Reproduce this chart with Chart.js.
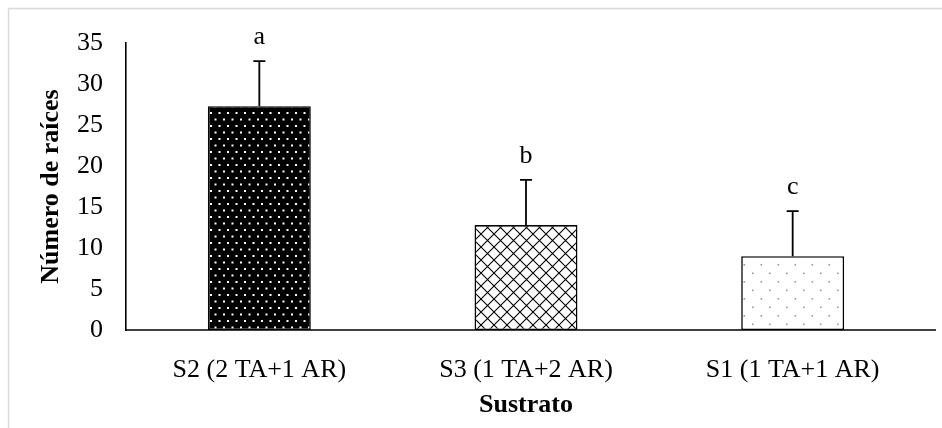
<!DOCTYPE html>
<html>
<head>
<meta charset="utf-8">
<script src="https://cdn.jsdelivr.net/npm/chart.js@4.4.0/dist/chart.umd.min.js"></script>
<style>
    body { margin: 0; background: #fff; }
    #wrap { width: 942px; height: 428px; position: relative; }
</style>
</head>
<body>
<div id="wrap"><canvas id="rootChart"></canvas></div>
<script>
// Root count per substrate
const categories = ['S2 (2 TA+1 AR)', 'S3 (1 TA+2 AR)', 'S1 (1 TA+1 AR)'];
const meanRoots = [27.3, 12.8, 9.0];
const sdRoots = [5.5, 5.5, 5.5];
const groupLetters = ['a', 'b', 'c'];
const yTicks = [0, 5, 10, 15, 20, 25, 30, 35];

const serif = 'Liberation Serif, Times New Roman, serif';

// Fill patterns
function makePattern(w, h, draw) {
    const c = document.createElement('canvas');
    c.width = w;
    c.height = h;
    const ctx = c.getContext('2d');
    draw(ctx, w, h);
    return document.getElementById('rootChart').getContext('2d').createPattern(c, 'repeat');
}

// black with white dots
const densePattern = makePattern(17, 13, (ctx, w, h) => {
    ctx.fillStyle = '#000';
    ctx.fillRect(0, 0, w, h);
    ctx.fillStyle = '#fff';
    [[2, 1.5], [10.5, 1.5], [6, 8], [14.5, 8]].forEach(([x, y]) => ctx.fillRect(x, y, 2, 2));
});

// diagonal cross hatch
const hatchPattern = makePattern(13, 13, (ctx, w, h) => {
    ctx.fillStyle = '#fff';
    ctx.fillRect(0, 0, w, h);
    ctx.strokeStyle = '#000';
    ctx.lineWidth = 1.1;
    ctx.beginPath();
    ctx.moveTo(0, 0); ctx.lineTo(w, h);
    ctx.moveTo(w, 0); ctx.lineTo(0, h);
    ctx.stroke();
});

// white with sparse grey dots
const sparsePattern = makePattern(17, 17, (ctx, w, h) => {
    ctx.fillStyle = '#fff';
    ctx.fillRect(0, 0, w, h);
    ctx.fillStyle = '#9a9a9a';
    [[4, 0.5], [12.5, 9]].forEach(([x, y]) => ctx.fillRect(x, y, 1.6, 1.6));
});

const barFills = [densePattern, hatchPattern, sparsePattern];

// Frame, x axis line, error bars and group letters
const decorPlugin = {
    id: 'decor',
    beforeDraw(chart) {
        const { ctx } = chart;
        ctx.save();
        ctx.strokeStyle = '#d9d9d9';
        ctx.lineWidth = 1.5;
        ctx.beginPath();
        ctx.moveTo(8.5, chart.height);
        ctx.lineTo(8.5, 8.5);
        ctx.lineTo(chart.width, 8.5);
        ctx.stroke();
        ctx.restore();
    },
    afterDatasetsDraw(chart) {
        const { ctx, chartArea } = chart;
        const yScale = chart.scales.y;
        const meta = chart.getDatasetMeta(0);
        ctx.save();
        ctx.strokeStyle = '#000';
        ctx.lineWidth = 1.6;
        ctx.beginPath();
        ctx.moveTo(chartArea.left, chartArea.bottom);
        ctx.lineTo(chartArea.right + 10, chartArea.bottom);
        ctx.stroke();

        ctx.fillStyle = '#000';
        ctx.font = '26px ' + serif;
        ctx.textAlign = 'center';
        ctx.textBaseline = 'alphabetic';
        ctx.lineWidth = 1.8;
        meta.data.forEach((bar, i) => {
            const top = yScale.getPixelForValue(meanRoots[i]);
            const errTop = yScale.getPixelForValue(meanRoots[i] + sdRoots[i]);
            ctx.beginPath();
            ctx.moveTo(bar.x, top);
            ctx.lineTo(bar.x, errTop);
            ctx.moveTo(bar.x - 6, errTop);
            ctx.lineTo(bar.x + 6, errTop);
            ctx.stroke();
            ctx.fillText(groupLetters[i], bar.x, errTop - 17);
        });
        ctx.restore();
    }
};

const rootChart = new Chart(document.getElementById('rootChart'), {
    type: 'bar',
    data: {
        labels: categories,
        datasets: [{
            data: meanRoots,
            backgroundColor: barFills,
            borderColor: '#000',
            borderWidth: 1.6,
            borderSkipped: false,
            barPercentage: 0.386,
            categoryPercentage: 1
        }]
    },
    options: {
        responsive: true,
        maintainAspectRatio: false,
        animation: false,
        layout: {
            padding: { top: 43, right: 16, left: 0, bottom: 0 }
        },
        scales: {
            x: {
                grid: { display: false, drawTicks: false },
                border: { display: false },
                ticks: {
                    color: '#000',
                    padding: 25,
                    font: { family: serif, size: 26 }
                },
                title: {
                    display: true,
                    text: 'Sustrato',
                    color: '#000',
                    padding: { top: 0, bottom: 7 },
                    font: { family: serif, size: 26, weight: 'bold' }
                },
                afterFit(scale) {
                    scale.height = 98;
                }
            },
            y: {
                min: 0,
                max: 35,
                afterBuildTicks(scale) {
                    scale.ticks = yTicks.map(v => ({ value: v }));
                },
                grid: { display: false, drawTicks: false },
                border: { display: true, color: '#000', width: 1.6 },
                ticks: {
                    color: '#000',
                    padding: 23,
                    font: { family: serif, size: 26 }
                },
                title: {
                    display: true,
                    text: 'Número de raíces',
                    color: '#000',
                    padding: { top: 36, bottom: 0 },
                    font: { family: serif, size: 26, weight: 'bold' }
                },
                afterFit(scale) {
                    scale.width = 126;
                }
            }
        },
        plugins: {
            legend: { display: false },
            tooltip: { enabled: false }
        }
    },
    plugins: [decorPlugin]
});
</script>
</body>
</html>
